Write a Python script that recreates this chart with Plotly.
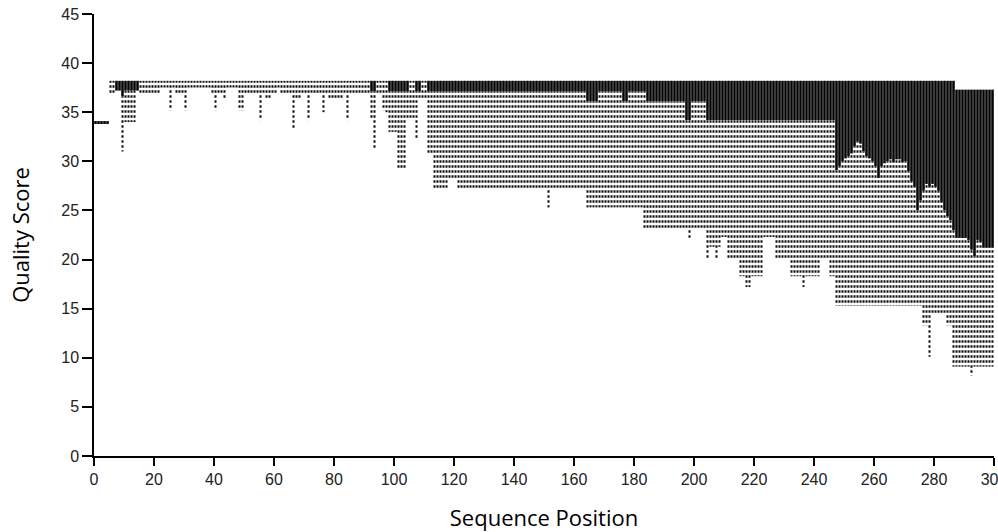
import plotly.graph_objects as go

# ---- data (per sequence position 1..300) ----
POSITIONS = list(range(1, 301))

# upper end of each column (quality score)
TOP = [34.1] * 5 + [38.2] * 282 + [37.3] * 13

# lower edge of the solid black part of each column
SOLID = (
    [33.9] * 5 + [38.2] * 2 + [37.2] * 2 + [36.6] + [37.2] * 5
    + [38.2] * 77 + [37.1] * 2 + [38.2] * 4 + [37.1] * 7 + [38.2] * 2
    + [37.1] * 2 + [38.2] * 2 + [37.1] * 53 + [36.1] * 4 + [37.1] * 8
    + [36.1] * 2 + [37.1] * 6 + [36.1] * 13 + [34.2] * 2 + [36.1] * 5
    + [34.2] * 43
    + [29.1, 29.5, 30.0, 30.3, 30.5, 30.8, 31.5, 32.0, 31.8, 31.0,
       30.5, 30.3, 30.0, 29.5, 28.3, 29.5, 29.8, 30.0, 30.2, 29.9,
       30.2, 30.2, 29.9, 30.0, 29.0, 28.0, 27.4, 25.0, 26.0, 27.0,
       27.7, 27.4, 27.7, 27.4, 27.0, 25.8, 25.0, 24.4, 24.0, 23.0,
       22.2, 22.2, 22.2, 22.2, 22.0, 21.0, 20.3, 22.0, 21.8, 21.2,
       21.2, 21.2, 21.2]
)

# lowest (dotted) value of each column
LOW = (
    [33.9] * 5 + [36.9] * 2 + [37.2] * 2 + [31.0] + [34.0] * 4 + [37.2]
    + [36.9] * 7 + [37.5] * 3 + [35.2] + [37.5] + [36.9] * 3 + [35.2]
    + [37.5] * 8 + [36.9] + [35.2] + [36.9] * 2 + [36.3] + [37.5] * 4
    + [35.2] * 2 + [36.9] * 5 + [34.2] + [36.9] + [36.3] * 2 + [36.9] * 2
    + [37.5] + [36.9] * 4 + [33.3] + [36.3] * 2 + [36.9] * 2 + [34.2]
    + [36.9] * 4 + [35.0] + [36.9] + [36.3] * 5 + [36.9] + [34.2]
    + [36.9] * 7 + [34.2] + [31.2] + [36.9] * 2 + [35.2] + [35.0]
    + [33.0] * 3 + [29.3] * 3 + [34.2] * 3 + [32.2] + [36.3] * 3
    + [30.8] * 2 + [27.1] * 5 + [28.3] * 3 + [27.1] * 30 + [25.3]
    + [27.1] * 12 + [25.3] * 19 + [23.2] * 15 + [22.2] + [23.1] * 5
    + [20.1] + [21.3] * 2 + [20.1] + [21.3] + [22.3] * 2 + [20.1] * 4
    + [18.3] * 2 + [17.2] * 2 + [18.3] * 4 + [22.3] * 4 + [20.1] * 5
    + [18.3] * 4 + [17.2] + [18.3] * 5 + [20.1] * 3 + [18.3] * 2
    + [15.3] * 29 + [13.3] * 2 + [10.1] + [14.4] * 5 + [13.3] * 2
    + [9.1] * 6 + [8.2] + [9.1] * 7
)

X_TICKS = [0, 20, 40, 60, 80, 100, 120, 140, 160, 180, 200, 220, 240, 260, 280, 300]
X_TICK_TEXT = ["0", "20", "40", "60", "80", "100", "120", "140", "160", "180",
               "200", "220", "240", "260", "280", "300"]
Y_TICKS = [0, 5, 10, 15, 20, 25, 30, 35, 40, 45]
Y_TICK_TEXT = ["0", "5", "10", "15", "20", "25", "30", "35", "40", "45"]

assert len(TOP) == len(SOLID) == len(LOW) == len(POSITIONS)

dotted_height = [s - l for s, l in zip(SOLID, LOW)]
solid_height = [t - s for t, s in zip(TOP, SOLID)]

fig = go.Figure()
fig.add_bar(
    x=POSITIONS, y=dotted_height, base=LOW, width=0.68, offset=-0.84,
    marker=dict(color="#111111", line=dict(width=0),
                pattern=dict(shape="-", size=5, solidity=0.5,
                             fgcolor="#111111", bgcolor="rgba(0,0,0,0)")),
    hoverinfo="skip", showlegend=False,
)
fig.add_bar(
    x=POSITIONS, y=solid_height, base=SOLID, width=0.86, offset=-0.93,
    marker=dict(color="#050505", line=dict(width=0)),
    hoverinfo="skip", showlegend=False,
)

tick_font = dict(family="Liberation Sans, Arial, sans-serif", size=16, color="#222222")
title_font = dict(family="Open Sans, sans-serif", size=22, color="#000000")

fig.update_layout(
    template="none",
    width=998, height=532,
    margin=dict(l=94, r=4, t=14, b=76, autoexpand=False),
    paper_bgcolor="white", plot_bgcolor="white",
    barmode="overlay", showlegend=False,
    xaxis=dict(
        range=[0, 300], tickmode="array", tickvals=X_TICKS, ticktext=X_TICK_TEXT,
        ticks="outside", ticklen=8, tickwidth=1.5, tickcolor="black",
        showline=True, linecolor="black", linewidth=1.5,
        showgrid=False, zeroline=False, automargin=False, tickfont=tick_font,
        ticklabeloverflow="allow",
        title=dict(text="Sequence Position", font=title_font, standoff=25),
    ),
    yaxis=dict(
        range=[0, 45], tickmode="array", tickvals=Y_TICKS, ticktext=Y_TICK_TEXT,
        ticks="outside", ticklen=10, tickwidth=1.5, tickcolor="black",
        showline=True, linecolor="black", linewidth=1.5,
        showgrid=False, zeroline=False, automargin=False, tickfont=tick_font,
        title=dict(text="Quality Score", font=title_font, standoff=26),
    ),
)

fig.write_html("out.html")
